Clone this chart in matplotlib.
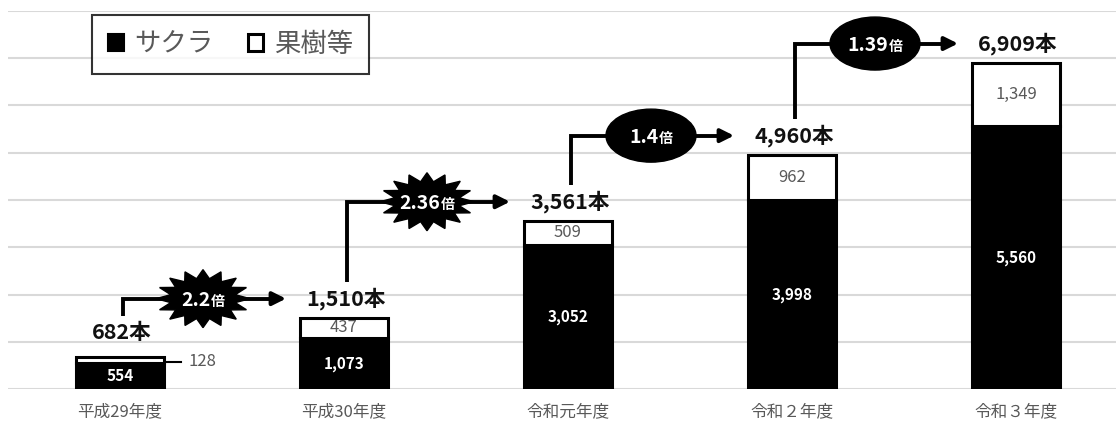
import numpy as np
import matplotlib
matplotlib.use("Agg")
import matplotlib.pyplot as plt
from matplotlib.patches import Patch, Polygon, Ellipse

plt.rcParams['font.family'] = ['Noto Sans CJK JP', 'DejaVu Sans']

# data
categories = ['平成29年度', '平成30年度', '令和元年度', '令和２年度', '令和３年度']
sakura = [554, 1073, 3052, 3998, 5560]
fruit = [128, 437, 509, 962, 1349]
ratios = ['2.2', '2.36', '1.4', '1.39']
badge_kind = ['star', 'star', 'ellipse', 'ellipse']

totals = [s + f for s, f in zip(sakura, fruit)]
x = np.arange(len(categories))

W, H = 1116, 423
fig = plt.figure(figsize=(W / 100, H / 100), dpi=100)
ax = fig.add_axes([8 / W, 34 / H, 1120 / W, 378 / H])
ax.set_xlim(-0.5, 4.5)
ax.set_ylim(0, 8000)
ax.set_yticks(range(0, 8001, 1000))
ax.yaxis.grid(True, color='#d9d9d9', lw=1.5)
ax.set_axisbelow(True)
ax.tick_params(length=0, labelleft=False)
for s in ax.spines.values():
    s.set_visible(False)
ax.set_xticks(x)
ax.set_xticklabels(categories, fontsize=12, color='#595959')
ax.tick_params(axis='x', pad=10)

bw = 0.39
ax.bar(x, sakura, width=bw, color='black', edgecolor='black', lw=2.2, zorder=3)
ax.bar(x, fruit, bottom=sakura, width=bw, color='white', edgecolor='black', lw=2.2, zorder=3)

# value labels inside bars
for i in x:
    ax.text(i, sakura[i] / 2, f'{sakura[i]:,}', ha='center', va='center',
            color='white', fontsize=11, weight='bold', zorder=4)
    if i > 0:
        ax.text(i, sakura[i] + fruit[i] / 2, f'{fruit[i]:,}', ha='center', va='center',
                color='#595959', fontsize=12, zorder=4)

# overlay in pixel units for annotations
ov = fig.add_axes([0, 0, 1, 1], zorder=5)
ov.set_xlim(0, W)
ov.set_ylim(H, 0)
ov.axis('off')
ov.patch.set_alpha(0)


def px(i, v):
    X, Y = ax.transData.transform((i, v))
    return X, H - Y


# small fruit label of first bar with leader line
rx, ry = px(bw / 2, sakura[0] + fruit[0] / 2)
ov.plot([rx + 2, rx + 17], [ry + 2, ry + 2], color='black', lw=1.5)
ov.text(rx + 25, ry + 2, f'{fruit[0]:,}', ha='left', va='center', color='#595959', fontsize=12)

# totals
label_y = []
for i in x:
    cx, ty = px(i, totals[i])
    ly = ty - (24 if i == 0 else 19)
    label_y.append(ly)
    ov.text(cx + 2, ly, f'{totals[i]:,}本', ha='center', va='center',
            fontsize=15.5, weight='bold', color='#111111')

renderer = fig.canvas.get_renderer()

# growth arrows and badges
for i in range(len(ratios)):
    x0, _ = px(i, 0)
    x1, _ = px(i + 1, 0)
    y0 = label_y[i] - 17
    y1 = label_y[i + 1]
    tip = x1 - 58
    ov.plot([x0 + 3, x0 + 3, tip - 12], [y0, y1, y1], color='black', lw=2.8,
            solid_joinstyle='miter', solid_capstyle='butt')
    ov.annotate('', xy=(tip, y1), xytext=(tip - 14, y1),
                arrowprops=dict(arrowstyle='-|>', color='black', lw=2.8,
                                mutation_scale=20, shrinkA=0, shrinkB=0))
    bx = (x0 + tip) / 2
    if badge_kind[i] == 'star':
        n = 16
        a, b = 47, 29
        ang = np.pi * np.arange(2 * n) / n
        r = np.where(np.arange(2 * n) % 2 == 0, 1.0, 0.7)
        verts = np.column_stack([bx + a * r * np.cos(ang), y1 + b * r * np.sin(ang)])
        ov.add_patch(Polygon(verts, closed=True, color='black', zorder=6))
    else:
        ov.add_patch(Ellipse((bx, y1), 90, 53, color='black', zorder=6))
    t1 = ov.text(0, 0, ratios[i], fontsize=14, weight='bold', color='white', zorder=7,
                 ha='left', va='baseline')
    t2 = ov.text(0, 0, '倍', fontsize=10, weight='bold', color='white', zorder=7,
                 ha='left', va='baseline')
    w1 = t1.get_window_extent(renderer).width
    w2 = t2.get_window_extent(renderer).width
    left = bx - (w1 + w2) / 2
    t1.set_position((left, y1 + 7))
    t2.set_position((left + w1, y1 + 7))

# legend
handles = [Patch(facecolor='black', edgecolor='black', lw=1.5),
           Patch(facecolor='white', edgecolor='black', lw=2.2)]
leg = fig.legend(handles, ['サクラ', '果樹等'], loc='upper left',
                 bbox_to_anchor=(92 / W, 1 - 15 / H), borderaxespad=0,
                 ncol=2, fontsize=19, frameon=True, fancybox=False,
                 handlelength=0.6, handleheight=0.6, handletextpad=0.4,
                 columnspacing=1.3, borderpad=0.6)
leg.get_frame().set_edgecolor('black')
leg.get_frame().set_linewidth(1.5)
for t in leg.get_texts():
    t.set_color('#595959')

fig.savefig('out.png', dpi=100)
